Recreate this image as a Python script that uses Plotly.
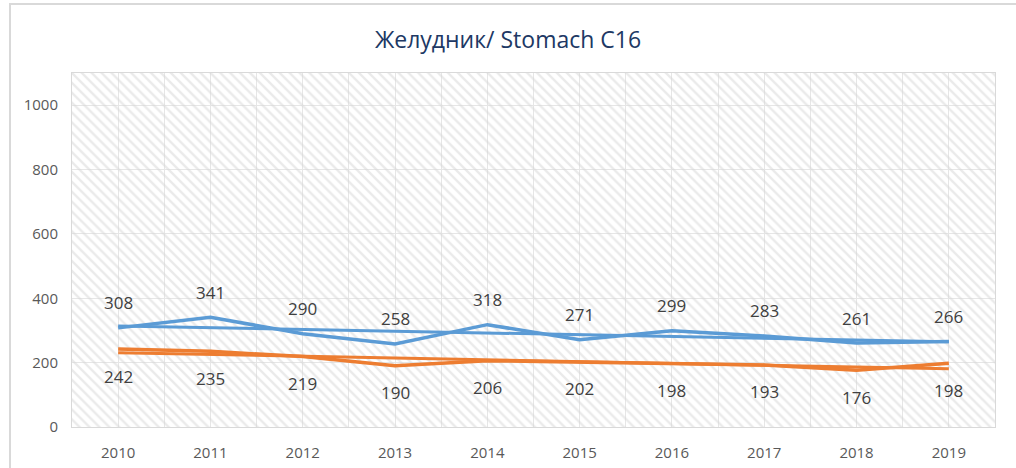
import numpy as np
import plotly.graph_objects as go

years = [2010, 2011, 2012, 2013, 2014, 2015, 2016, 2017, 2018, 2019]
series_blue = [308, 341, 290, 258, 318, 271, 299, 283, 261, 266]
series_orange = [242, 235, 219, 190, 206, 202, 198, 193, 176, 198]
y_ticks = [0, 200, 400, 600, 800, 1000]
title_text = "Желудник/ Stomach C16"

BLUE = "#5B9BD5"
ORANGE = "#ED7D31"
FONT = "Open Sans"

x_lo, x_hi = years[0] - 0.5, years[-1] + 0.5
y_hi = 1100

fig = go.Figure()

# hatched background of the plot area
fig.add_trace(go.Scatter(
    x=[x_lo, x_hi], y=[y_hi, y_hi], mode="lines", fill="tozeroy",
    line=dict(width=0, color="rgba(0,0,0,0)"),
    fillcolor="rgba(0,0,0,0)",
    fillpattern=dict(shape="\\", fgcolor="#d6d6d6", bgcolor="rgba(0,0,0,0)",
                     size=7, solidity=0.35),
    hoverinfo="skip", showlegend=False,
))

def trend(vals):
    x = np.array(years, dtype=float)
    k, b = np.polyfit(x, np.array(vals, dtype=float), 1)
    return list(k * x + b)

for vals, col in [(series_blue, BLUE), (series_orange, ORANGE)]:
    fig.add_trace(go.Scatter(x=years, y=trend(vals), mode="lines",
                             line=dict(color=col, width=3), showlegend=False,
                             hoverinfo="skip"))
    fig.add_trace(go.Scatter(x=years, y=vals, mode="lines",
                             line=dict(color=col, width=3.5), showlegend=False))

for x, v in zip(years, series_blue):
    fig.add_annotation(x=x, y=v, text=str(v), showarrow=False, yshift=25,
                       font=dict(family=FONT, size=17, color="#404040"))
for x, v in zip(years, series_orange):
    fig.add_annotation(x=x, y=v, text=str(v), showarrow=False, yshift=-27,
                       font=dict(family=FONT, size=17, color="#404040"))

# outer chart border
fig.add_shape(type="rect", xref="paper", yref="paper",
              x0=-62 / 923, x1=1.0 + 40 / 923, y0=-0.2, y1=1 + 69 / 354,
              line=dict(color="#d9d9d9", width=2), fillcolor="rgba(0,0,0,0)",
              layer="below")

fig.update_layout(
    width=1016, height=468,
    margin=dict(l=72, r=21, t=73, b=41, autoexpand=False),
    paper_bgcolor="white", plot_bgcolor="white",
    title=dict(text=title_text, x=0.5, xanchor="center", y=0.915,
               yanchor="middle",
               font=dict(family=FONT, size=23, color="#203864")),
    font=dict(family=FONT, color="#595959"),
    xaxis=dict(range=[x_lo, x_hi], tickvals=years,
               ticktext=[str(y) for y in years], automargin=False,
               showgrid=True, gridcolor="#e6e6e6", gridwidth=1,
               minor=dict(tickvals=[y + 0.5 for y in years[:-1]] + [x_lo],
                          showgrid=True, gridcolor="#e6e6e6", gridwidth=1),
               showline=True, linecolor="#d9d9d9", linewidth=1, mirror=True,
               zeroline=False, ticks="", ticklabelstandoff=12,
               tickfont=dict(family=FONT, size=15, color="#595959"),
               fixedrange=True),
    yaxis=dict(range=[0, y_hi], tickvals=y_ticks, automargin=False,
               showgrid=True, gridcolor="#e6e6e6", gridwidth=1,
               showline=True, linecolor="#d9d9d9", linewidth=1, mirror=True,
               zeroline=False, ticks="", ticklabelstandoff=10,
               tickfont=dict(family=FONT, size=15, color="#595959"),
               fixedrange=True),
    showlegend=False,
)

fig.write_html("out.html", config={"displayModeBar": False},
               post_script="document.body.style.margin='0';"
                           "document.body.style.overflow='hidden';")
